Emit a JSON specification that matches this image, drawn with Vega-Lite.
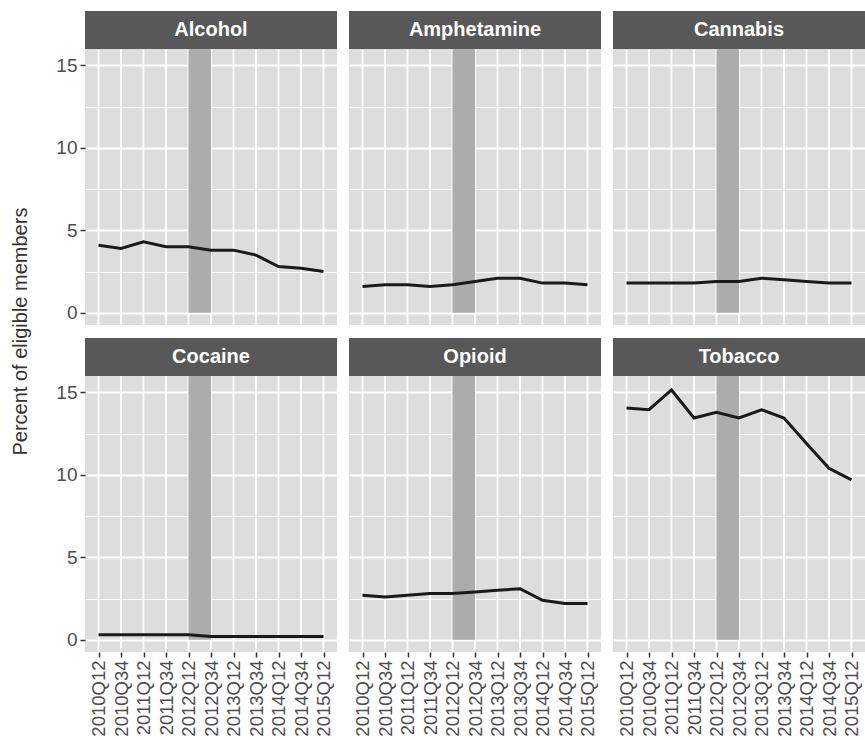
{
  "$schema": "https://vega.github.io/schema/vega-lite/v6.json",
  "background": "white",
  "padding": {"left": 10, "top": 11, "right": 0, "bottom": 0},
  "title": {
    "text": "Percent of eligible members",
    "orient": "left",
    "anchor": "middle",
    "font": "Liberation Sans",
    "fontSize": 20,
    "fontWeight": "normal",
    "color": "#333333",
    "offset": 25,
    "dx": 42
  },
  "data": {
    "values": [
      {"substance": "Alcohol", "period": "2010Q12", "pct": 4.1},
      {"substance": "Alcohol", "period": "2010Q34", "pct": 3.9},
      {"substance": "Alcohol", "period": "2011Q12", "pct": 4.3},
      {"substance": "Alcohol", "period": "2011Q34", "pct": 4.0},
      {"substance": "Alcohol", "period": "2012Q12", "pct": 4.0},
      {"substance": "Alcohol", "period": "2012Q34", "pct": 3.8},
      {"substance": "Alcohol", "period": "2013Q12", "pct": 3.8},
      {"substance": "Alcohol", "period": "2013Q34", "pct": 3.5},
      {"substance": "Alcohol", "period": "2014Q12", "pct": 2.8},
      {"substance": "Alcohol", "period": "2014Q34", "pct": 2.7},
      {"substance": "Alcohol", "period": "2015Q12", "pct": 2.5},
      {"substance": "Amphetamine", "period": "2010Q12", "pct": 1.6},
      {"substance": "Amphetamine", "period": "2010Q34", "pct": 1.7},
      {"substance": "Amphetamine", "period": "2011Q12", "pct": 1.7},
      {"substance": "Amphetamine", "period": "2011Q34", "pct": 1.6},
      {"substance": "Amphetamine", "period": "2012Q12", "pct": 1.7},
      {"substance": "Amphetamine", "period": "2012Q34", "pct": 1.9},
      {"substance": "Amphetamine", "period": "2013Q12", "pct": 2.1},
      {"substance": "Amphetamine", "period": "2013Q34", "pct": 2.1},
      {"substance": "Amphetamine", "period": "2014Q12", "pct": 1.8},
      {"substance": "Amphetamine", "period": "2014Q34", "pct": 1.8},
      {"substance": "Amphetamine", "period": "2015Q12", "pct": 1.7},
      {"substance": "Cannabis", "period": "2010Q12", "pct": 1.8},
      {"substance": "Cannabis", "period": "2010Q34", "pct": 1.8},
      {"substance": "Cannabis", "period": "2011Q12", "pct": 1.8},
      {"substance": "Cannabis", "period": "2011Q34", "pct": 1.8},
      {"substance": "Cannabis", "period": "2012Q12", "pct": 1.9},
      {"substance": "Cannabis", "period": "2012Q34", "pct": 1.9},
      {"substance": "Cannabis", "period": "2013Q12", "pct": 2.1},
      {"substance": "Cannabis", "period": "2013Q34", "pct": 2.0},
      {"substance": "Cannabis", "period": "2014Q12", "pct": 1.9},
      {"substance": "Cannabis", "period": "2014Q34", "pct": 1.8},
      {"substance": "Cannabis", "period": "2015Q12", "pct": 1.8},
      {"substance": "Cocaine", "period": "2010Q12", "pct": 0.3},
      {"substance": "Cocaine", "period": "2010Q34", "pct": 0.3},
      {"substance": "Cocaine", "period": "2011Q12", "pct": 0.3},
      {"substance": "Cocaine", "period": "2011Q34", "pct": 0.3},
      {"substance": "Cocaine", "period": "2012Q12", "pct": 0.3},
      {"substance": "Cocaine", "period": "2012Q34", "pct": 0.2},
      {"substance": "Cocaine", "period": "2013Q12", "pct": 0.2},
      {"substance": "Cocaine", "period": "2013Q34", "pct": 0.2},
      {"substance": "Cocaine", "period": "2014Q12", "pct": 0.2},
      {"substance": "Cocaine", "period": "2014Q34", "pct": 0.2},
      {"substance": "Cocaine", "period": "2015Q12", "pct": 0.2},
      {"substance": "Opioid", "period": "2010Q12", "pct": 2.7},
      {"substance": "Opioid", "period": "2010Q34", "pct": 2.6},
      {"substance": "Opioid", "period": "2011Q12", "pct": 2.7},
      {"substance": "Opioid", "period": "2011Q34", "pct": 2.8},
      {"substance": "Opioid", "period": "2012Q12", "pct": 2.8},
      {"substance": "Opioid", "period": "2012Q34", "pct": 2.9},
      {"substance": "Opioid", "period": "2013Q12", "pct": 3.0},
      {"substance": "Opioid", "period": "2013Q34", "pct": 3.1},
      {"substance": "Opioid", "period": "2014Q12", "pct": 2.4},
      {"substance": "Opioid", "period": "2014Q34", "pct": 2.2},
      {"substance": "Opioid", "period": "2015Q12", "pct": 2.2},
      {"substance": "Tobacco", "period": "2010Q12", "pct": 14.05},
      {"substance": "Tobacco", "period": "2010Q34", "pct": 13.95},
      {"substance": "Tobacco", "period": "2011Q12", "pct": 15.15},
      {"substance": "Tobacco", "period": "2011Q34", "pct": 13.45},
      {"substance": "Tobacco", "period": "2012Q12", "pct": 13.8},
      {"substance": "Tobacco", "period": "2012Q34", "pct": 13.45},
      {"substance": "Tobacco", "period": "2013Q12", "pct": 13.95},
      {"substance": "Tobacco", "period": "2013Q34", "pct": 13.45},
      {"substance": "Tobacco", "period": "2014Q12", "pct": 11.9},
      {"substance": "Tobacco", "period": "2014Q34", "pct": 10.4},
      {"substance": "Tobacco", "period": "2015Q12", "pct": 9.7}
    ]
  },
  "spacing": 12,
  "vconcat": [
    {
      "spacing": 12,
      "hconcat": [
        {
          "width": 252, "height": 314,
          "transform": [{"filter": "datum.substance === 'Alcohol'"}],
          "layer": [
            {"mark": {"type": "rule", "color": "white", "strokeWidth": 1.8},
             "encoding": {"x": {"field": "period", "type": "ordinal", "title": null}, "y": {"datum": -0.74, "type": "quantitative", "title": null}, "y2": {"datum": 16.0}}},
            {"transform": [{"filter": "datum.period === '2012Q12'"}],
             "mark": {"type": "rect", "color": "#acacac"},
             "encoding": {"x": {"field": "period", "type": "ordinal", "title": null}, "x2": {"datum": "2012Q34"}, "y": {"datum": 0, "type": "quantitative", "title": null}, "y2": {"datum": 16.0}}},
            {"mark": {"type": "line", "color": "#1a1a1a", "strokeWidth": 3},
             "encoding": {
               "x": {"field": "period", "type": "ordinal", "title": null, "scale": {"type": "point", "padding": 0.6}, "axis": {"labels": false, "ticks": false, "grid": false}},
               "y": {"field": "pct", "type": "quantitative", "title": null, "scale": {"domain": [-0.74, 18.3], "nice": false, "zero": false},
                     "axis": {"values": [0, 2.5, 5, 7.5, 10, 12.5, 15], "labelFontSize": 19, "labelOverlap": false, "labelExpr": "datum.value % 5 === 0 ? datum.label : ''", "tickOpacity": {"expr": "datum.value % 5 === 0 ? 1 : 0"}, "grid": true, "zindex": 0, "gridColor": "white", "gridWidth": {"expr": "datum.value % 5 === 0 ? 1.8 : 0.9"}}}}},
            {"transform": [{"filter": "datum.period === '2010Q12'"}],
             "mark": {"type": "rect", "color": "#585858"},
             "encoding": {"y": {"datum": 16.0, "type": "quantitative", "title": null}, "y2": {"datum": 18.3}}},
            {"transform": [{"filter": "datum.period === '2010Q12'"}],
             "mark": {"type": "text", "color": "white", "font": "Liberation Sans", "fontSize": 20, "fontWeight": "bold", "baseline": "middle"},
             "encoding": {"y": {"datum": 17.15, "type": "quantitative", "title": null}, "text": {"field": "substance"}}}
          ]
        },
        {
          "width": 252, "height": 314,
          "transform": [{"filter": "datum.substance === 'Amphetamine'"}],
          "layer": [
            {"mark": {"type": "rule", "color": "white", "strokeWidth": 1.8},
             "encoding": {"x": {"field": "period", "type": "ordinal", "title": null}, "y": {"datum": -0.74, "type": "quantitative", "title": null}, "y2": {"datum": 16.0}}},
            {"transform": [{"filter": "datum.period === '2012Q12'"}],
             "mark": {"type": "rect", "color": "#acacac"},
             "encoding": {"x": {"field": "period", "type": "ordinal", "title": null}, "x2": {"datum": "2012Q34"}, "y": {"datum": 0, "type": "quantitative", "title": null}, "y2": {"datum": 16.0}}},
            {"mark": {"type": "line", "color": "#1a1a1a", "strokeWidth": 3},
             "encoding": {
               "x": {"field": "period", "type": "ordinal", "title": null, "scale": {"type": "point", "padding": 0.6}, "axis": {"labels": false, "ticks": false, "grid": false}},
               "y": {"field": "pct", "type": "quantitative", "title": null, "scale": {"domain": [-0.74, 18.3], "nice": false, "zero": false},
                     "axis": {"values": [0, 2.5, 5, 7.5, 10, 12.5, 15], "labels": false, "ticks": false, "grid": true, "zindex": 0, "gridColor": "white", "gridWidth": {"expr": "datum.value % 5 === 0 ? 1.8 : 0.9"}}}}},
            {"transform": [{"filter": "datum.period === '2010Q12'"}],
             "mark": {"type": "rect", "color": "#585858"},
             "encoding": {"y": {"datum": 16.0, "type": "quantitative", "title": null}, "y2": {"datum": 18.3}}},
            {"transform": [{"filter": "datum.period === '2010Q12'"}],
             "mark": {"type": "text", "color": "white", "font": "Liberation Sans", "fontSize": 20, "fontWeight": "bold", "baseline": "middle"},
             "encoding": {"y": {"datum": 17.15, "type": "quantitative", "title": null}, "text": {"field": "substance"}}}
          ]
        },
        {
          "width": 252, "height": 314,
          "transform": [{"filter": "datum.substance === 'Cannabis'"}],
          "layer": [
            {"mark": {"type": "rule", "color": "white", "strokeWidth": 1.8},
             "encoding": {"x": {"field": "period", "type": "ordinal", "title": null}, "y": {"datum": -0.74, "type": "quantitative", "title": null}, "y2": {"datum": 16.0}}},
            {"transform": [{"filter": "datum.period === '2012Q12'"}],
             "mark": {"type": "rect", "color": "#acacac"},
             "encoding": {"x": {"field": "period", "type": "ordinal", "title": null}, "x2": {"datum": "2012Q34"}, "y": {"datum": 0, "type": "quantitative", "title": null}, "y2": {"datum": 16.0}}},
            {"mark": {"type": "line", "color": "#1a1a1a", "strokeWidth": 3},
             "encoding": {
               "x": {"field": "period", "type": "ordinal", "title": null, "scale": {"type": "point", "padding": 0.6}, "axis": {"labels": false, "ticks": false, "grid": false}},
               "y": {"field": "pct", "type": "quantitative", "title": null, "scale": {"domain": [-0.74, 18.3], "nice": false, "zero": false},
                     "axis": {"values": [0, 2.5, 5, 7.5, 10, 12.5, 15], "labels": false, "ticks": false, "grid": true, "zindex": 0, "gridColor": "white", "gridWidth": {"expr": "datum.value % 5 === 0 ? 1.8 : 0.9"}}}}},
            {"transform": [{"filter": "datum.period === '2010Q12'"}],
             "mark": {"type": "rect", "color": "#585858"},
             "encoding": {"y": {"datum": 16.0, "type": "quantitative", "title": null}, "y2": {"datum": 18.3}}},
            {"transform": [{"filter": "datum.period === '2010Q12'"}],
             "mark": {"type": "text", "color": "white", "font": "Liberation Sans", "fontSize": 20, "fontWeight": "bold", "baseline": "middle"},
             "encoding": {"y": {"datum": 17.15, "type": "quantitative", "title": null}, "text": {"field": "substance"}}}
          ]
        }
      ]
    },
    {
      "spacing": 12,
      "hconcat": [
        {
          "width": 252, "height": 314,
          "transform": [{"filter": "datum.substance === 'Cocaine'"}],
          "layer": [
            {"mark": {"type": "rule", "color": "white", "strokeWidth": 1.8},
             "encoding": {"x": {"field": "period", "type": "ordinal", "title": null}, "y": {"datum": -0.74, "type": "quantitative", "title": null}, "y2": {"datum": 16.0}}},
            {"transform": [{"filter": "datum.period === '2012Q12'"}],
             "mark": {"type": "rect", "color": "#acacac"},
             "encoding": {"x": {"field": "period", "type": "ordinal", "title": null}, "x2": {"datum": "2012Q34"}, "y": {"datum": 0, "type": "quantitative", "title": null}, "y2": {"datum": 16.0}}},
            {"mark": {"type": "line", "color": "#1a1a1a", "strokeWidth": 3},
             "encoding": {
               "x": {"field": "period", "type": "ordinal", "title": null, "scale": {"type": "point", "padding": 0.6}, "axis": {"labelAngle": -90, "labelFontSize": 18.5, "grid": false}},
               "y": {"field": "pct", "type": "quantitative", "title": null, "scale": {"domain": [-0.74, 18.3], "nice": false, "zero": false},
                     "axis": {"values": [0, 2.5, 5, 7.5, 10, 12.5, 15], "labelFontSize": 19, "labelOverlap": false, "labelExpr": "datum.value % 5 === 0 ? datum.label : ''", "tickOpacity": {"expr": "datum.value % 5 === 0 ? 1 : 0"}, "grid": true, "zindex": 0, "gridColor": "white", "gridWidth": {"expr": "datum.value % 5 === 0 ? 1.8 : 0.9"}}}}},
            {"transform": [{"filter": "datum.period === '2010Q12'"}],
             "mark": {"type": "rect", "color": "#585858"},
             "encoding": {"y": {"datum": 16.0, "type": "quantitative", "title": null}, "y2": {"datum": 18.3}}},
            {"transform": [{"filter": "datum.period === '2010Q12'"}],
             "mark": {"type": "text", "color": "white", "font": "Liberation Sans", "fontSize": 20, "fontWeight": "bold", "baseline": "middle"},
             "encoding": {"y": {"datum": 17.15, "type": "quantitative", "title": null}, "text": {"field": "substance"}}}
          ]
        },
        {
          "width": 252, "height": 314,
          "transform": [{"filter": "datum.substance === 'Opioid'"}],
          "layer": [
            {"mark": {"type": "rule", "color": "white", "strokeWidth": 1.8},
             "encoding": {"x": {"field": "period", "type": "ordinal", "title": null}, "y": {"datum": -0.74, "type": "quantitative", "title": null}, "y2": {"datum": 16.0}}},
            {"transform": [{"filter": "datum.period === '2012Q12'"}],
             "mark": {"type": "rect", "color": "#acacac"},
             "encoding": {"x": {"field": "period", "type": "ordinal", "title": null}, "x2": {"datum": "2012Q34"}, "y": {"datum": 0, "type": "quantitative", "title": null}, "y2": {"datum": 16.0}}},
            {"mark": {"type": "line", "color": "#1a1a1a", "strokeWidth": 3},
             "encoding": {
               "x": {"field": "period", "type": "ordinal", "title": null, "scale": {"type": "point", "padding": 0.6}, "axis": {"labelAngle": -90, "labelFontSize": 18.5, "grid": false}},
               "y": {"field": "pct", "type": "quantitative", "title": null, "scale": {"domain": [-0.74, 18.3], "nice": false, "zero": false},
                     "axis": {"values": [0, 2.5, 5, 7.5, 10, 12.5, 15], "labels": false, "ticks": false, "grid": true, "zindex": 0, "gridColor": "white", "gridWidth": {"expr": "datum.value % 5 === 0 ? 1.8 : 0.9"}}}}},
            {"transform": [{"filter": "datum.period === '2010Q12'"}],
             "mark": {"type": "rect", "color": "#585858"},
             "encoding": {"y": {"datum": 16.0, "type": "quantitative", "title": null}, "y2": {"datum": 18.3}}},
            {"transform": [{"filter": "datum.period === '2010Q12'"}],
             "mark": {"type": "text", "color": "white", "font": "Liberation Sans", "fontSize": 20, "fontWeight": "bold", "baseline": "middle"},
             "encoding": {"y": {"datum": 17.15, "type": "quantitative", "title": null}, "text": {"field": "substance"}}}
          ]
        },
        {
          "width": 252, "height": 314,
          "transform": [{"filter": "datum.substance === 'Tobacco'"}],
          "layer": [
            {"mark": {"type": "rule", "color": "white", "strokeWidth": 1.8},
             "encoding": {"x": {"field": "period", "type": "ordinal", "title": null}, "y": {"datum": -0.74, "type": "quantitative", "title": null}, "y2": {"datum": 16.0}}},
            {"transform": [{"filter": "datum.period === '2012Q12'"}],
             "mark": {"type": "rect", "color": "#acacac"},
             "encoding": {"x": {"field": "period", "type": "ordinal", "title": null}, "x2": {"datum": "2012Q34"}, "y": {"datum": 0, "type": "quantitative", "title": null}, "y2": {"datum": 16.0}}},
            {"mark": {"type": "line", "color": "#1a1a1a", "strokeWidth": 3},
             "encoding": {
               "x": {"field": "period", "type": "ordinal", "title": null, "scale": {"type": "point", "padding": 0.6}, "axis": {"labelAngle": -90, "labelFontSize": 18.5, "grid": false}},
               "y": {"field": "pct", "type": "quantitative", "title": null, "scale": {"domain": [-0.74, 18.3], "nice": false, "zero": false},
                     "axis": {"values": [0, 2.5, 5, 7.5, 10, 12.5, 15], "labels": false, "ticks": false, "grid": true, "zindex": 0, "gridColor": "white", "gridWidth": {"expr": "datum.value % 5 === 0 ? 1.8 : 0.9"}}}}},
            {"transform": [{"filter": "datum.period === '2010Q12'"}],
             "mark": {"type": "rect", "color": "#585858"},
             "encoding": {"y": {"datum": 16.0, "type": "quantitative", "title": null}, "y2": {"datum": 18.3}}},
            {"transform": [{"filter": "datum.period === '2010Q12'"}],
             "mark": {"type": "text", "color": "white", "font": "Liberation Sans", "fontSize": 20, "fontWeight": "bold", "baseline": "middle"},
             "encoding": {"y": {"datum": 17.15, "type": "quantitative", "title": null}, "text": {"field": "substance"}}}
          ]
        }
      ]
    }
  ],
  "config": {
    "view": {"fill": "#dddddd", "stroke": null},
    "axis": {
      "labelFont": "Liberation Sans",
      "labelFontSize": 17,
      "labelColor": "#4d4d4d",
      "labelPadding": 3,
      "tickColor": "#333333",
      "tickSize": 5,
      "tickWidth": 1.5,
      "domain": false
    }
  }
}
